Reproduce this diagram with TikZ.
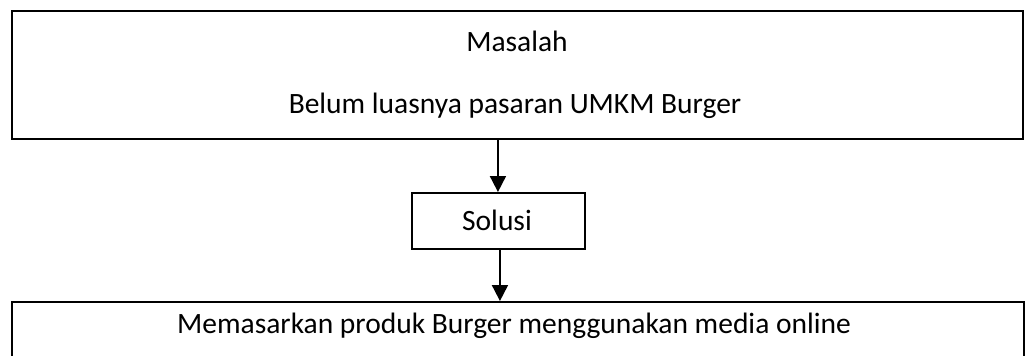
\documentclass[tikz,border=0pt]{standalone}
\usepackage{fontspec}
\setmainfont{Carlito}
\usetikzlibrary{arrows.meta}
\begin{document}
\begin{tikzpicture}[x=1pt,y=-1pt,
  box/.style={draw=black,line width=1.9pt,inner sep=0pt,anchor=north west},
  lbl/.style={font=\fontsize{29.5}{34}\selectfont,inner sep=0pt,anchor=base},
  arr/.style={line width=1.9pt,-{Triangle[width=16pt,length=16pt]}}]
\useasboundingbox (0,0) rectangle (1029,356);
\node[box,minimum width=1011pt,minimum height=128pt] (top) at (11,10) {};
\node[lbl] (t1) at (517,51) {Masalah};
\node[lbl] (t2) at (515,113) {Belum luasnya pasaran UMKM Burger};
\node[box,minimum width=173pt,minimum height=56pt] (sol) at (411,192) {};
\node[lbl] (s1) at (497,230) {Solusi};
\node[box,minimum width=1012pt,minimum height=70pt] (bot) at (11,301) {};
\node[lbl] (b1) at (514,333) {Memasarkan produk Burger menggunakan media online};
\draw[arr] (top.south -| sol.center) ++(-0.5,0) coordinate (a1) -- (a1 |- sol.north);
\draw[arr] (sol.south) ++(1.5,0) coordinate (a2) -- (a2 |- bot.north);
\end{tikzpicture}
\end{document}
